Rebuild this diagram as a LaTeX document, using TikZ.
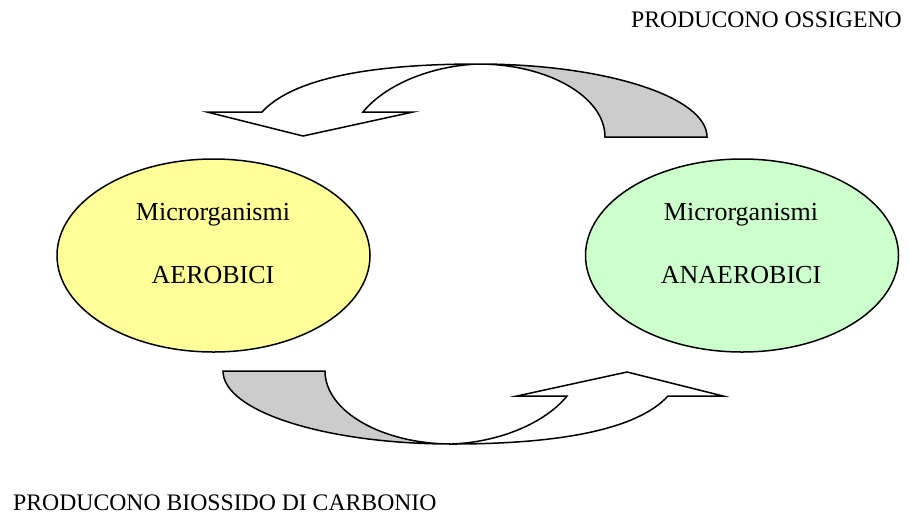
\documentclass[tikz,border=0pt]{standalone}
\usepackage{fontspec}
\setmainfont{Liberation Serif}
\usetikzlibrary{shapes.geometric}
\definecolor{aercol}{RGB}{255,255,153}
\definecolor{anaercol}{RGB}{204,255,204}
\definecolor{backcol}{RGB}{204,204,204}

% one curved ribbon arrow (the upper one), in pixel coordinates
\newcommand{\ribbonarrow}{%
	\draw[ribbon,fill=backcol] (478,64) .. controls (604.5,64) and (707,96.7) .. (707,137)
		-- (605,137) .. controls (605,96.7) and (548,64) .. (478,64) -- cycle;
	\draw[ribbon,fill=white] (478,64) .. controls (380,64) and (295,76) .. (262,112)
		-- (207,112) -- (303,136) -- (413,112) -- (363,112)
		.. controls (385,85) and (430,66) .. (478,64) -- cycle;
}

\begin{document}
\begin{tikzpicture}[x=1pt,y=-1pt,
	ribbon/.style={draw=black,line width=1.5pt,line join=miter},
	cell/.style={ellipse,draw=black,line width=1.5pt,minimum width=313pt,minimum height=193pt,inner sep=0pt},
	celltext/.style={anchor=base,inner sep=0pt,font=\fontsize{26}{30}\selectfont},
	caption/.style={inner sep=0pt,font=\fontsize{23.7}{28}\selectfont}]
	\useasboundingbox (0,0) rectangle (909,515);

	\node[cell,fill=aercol] (aer) at (213.5,255.5) {};
	\node[cell,fill=anaercol] (anaer) at (742,255.5) {};
	\node[celltext] (aer1) at (213,220) {Microrganismi};
	\node[celltext] (aer2) at (213,283) {AEROBICI};
	\node[celltext] (anaer1) at (741,220) {Microrganismi};
	\node[celltext] (anaer2) at (741,283) {ANAEROBICI};

	% the two arrows of the cycle
	\ribbonarrow
	\begin{scope}[rotate around={180:(465,254)}]
		\ribbonarrow
	\end{scope}

	\node[caption,anchor=base east] (oxy) at (902,27) {PRODUCONO OSSIGENO};
	\node[caption,anchor=base west] (co2) at (13,510) {PRODUCONO BIOSSIDO DI CARBONIO};
\end{tikzpicture}
\end{document}
